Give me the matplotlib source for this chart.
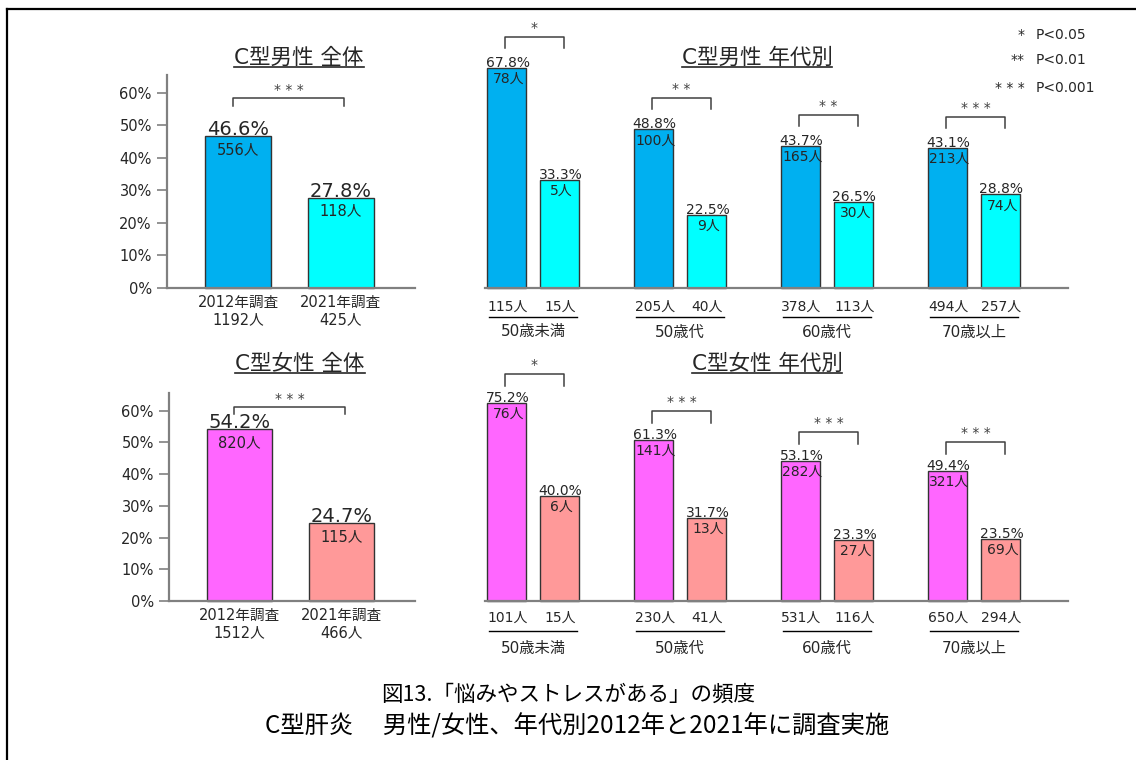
import numpy as np
import matplotlib
matplotlib.use('Agg')
import matplotlib.pyplot as plt
from matplotlib.lines import Line2D
from matplotlib.transforms import IdentityTransform

plt.rcParams['font.family'] = ['DejaVu Sans', 'Noto Sans CJK JP']

W, H = 1136, 760

# ---- data ----
survey_labels = ['2012年調査', '2021年調査']
age_groups = ['50歳未満', '50歳代', '60歳代', '70歳以上']

male_total_n = [1192, 425]
male_total_pct = [46.6, 27.8]
male_total_cnt = [556, 118]
male_total_sig = '* * *'

female_total_n = [1512, 466]
female_total_pct = [54.2, 24.7]
female_total_cnt = [820, 115]
female_total_sig = '* * *'

male_age_n_2012 = [115, 205, 378, 494]
male_age_n_2021 = [15, 40, 113, 257]
male_age_pct_2012 = [67.8, 48.8, 43.7, 43.1]
male_age_pct_2021 = [33.3, 22.5, 26.5, 28.8]
male_age_cnt_2012 = [78, 100, 165, 213]
male_age_cnt_2021 = [5, 9, 30, 74]
male_age_sig = ['*', '* *', '* *', '* * *']

female_age_n_2012 = [101, 230, 531, 650]
female_age_n_2021 = [15, 41, 116, 294]
female_age_pct_2012 = [75.2, 61.3, 53.1, 49.4]
female_age_pct_2021 = [40.0, 31.7, 23.3, 23.5]
female_age_cnt_2012 = [76, 141, 282, 321]
female_age_cnt_2021 = [6, 13, 27, 69]
female_age_sig = ['*', '* * *', '* * *', '* * *']

sig_legend = [('*', 'P<0.05'), ('**', 'P<0.01'), ('* * *', 'P<0.001')]

# ---- style ----
BLUE, CYAN = '#00B0F0', '#00FFFF'
PINK, SALMON = '#FF66FF', '#FF9999'
EDGE = '#333333'
AXIS = '#808080'
TXT = '#262626'
SIGC = '#404040'
CAPTION_FONT = ['Noto Sans CJK JP', 'DejaVu Sans']

fig = plt.figure(figsize=(W / 100, H / 100), dpi=100)


def px_axes(left, baseline, width, height):
    return fig.add_axes([left / W, (H - baseline) / H, width / W, height / H])


def to_px(ax, x, y):
    return ax.transData.transform((x, y))


def px_line(xs, ys, color, lw):
    fig.add_artist(Line2D(xs, ys, transform=IdentityTransform(), color=color,
                          lw=lw, clip_on=False))


def bracket(ax, x1, x2, y_top, gap, leg, sig, star_gap=9):
    # y_top: data value of the taller bar, gap in pixels above it
    p1 = to_px(ax, x1, y_top)
    p2 = to_px(ax, x2, y_top)
    yt = p1[1] + gap
    px_line([p1[0], p1[0], p2[0], p2[0]], [yt - leg, yt, yt, yt - leg], SIGC, 1.1)
    fig.text((p1[0] + p2[0]) / 2 / W, (yt + star_gap) / H, sig, ha='center',
             va='center', fontsize=10, color=SIGC)


def label(ax, text, xy, dx, dy, va, size):
    ax.annotate(text, xy=xy, xytext=(dx, dy), textcoords='offset pixels',
                ha='center', va=va, fontsize=size, color=TXT,
                annotation_clip=False)


def total_panel(ax, pct, cnt, n, colors, sig, gap, leg, ylim):
    x = np.arange(2)
    ax.bar(x, pct, 0.64, color=colors, edgecolor=EDGE, lw=1, clip_on=False)
    ax.set_xlim(-0.69, 1.72)
    ax.set_ylim(0, ylim)
    ax.set_yticks(range(0, 70, 10))
    ax.set_yticklabels([f'{v}%' for v in range(0, 70, 10)], fontsize=10.5, color=TXT)
    ax.tick_params(axis='y', length=7, color=AXIS, width=1.2, pad=4)
    ax.set_xticks(x)
    ax.set_xticklabels([f'{s}\n{v}人' for s, v in zip(survey_labels, n)],
                       fontsize=10.5, color=TXT, linespacing=1.2)
    ax.tick_params(axis='x', length=0, pad=5)
    for s in ['top', 'right']:
        ax.spines[s].set_visible(False)
    for s in ['left', 'bottom']:
        ax.spines[s].set_color(AXIS)
        ax.spines[s].set_linewidth(1.6)
    for i in range(2):
        label(ax, f'{pct[i]:.1f}%', (x[i], pct[i]), 0, 1, 'baseline', 14)
        label(ax, f'{cnt[i]}人', (x[i], pct[i]), 0, -6, 'top', 10.5)
    bracket(ax, -0.05, 1.03, max(pct), gap, leg, sig, star_gap=8)


def age_panel(ax, pct1, pct2, cnt1, cnt2, n1, n2, sig, c1, c2, ylim,
              gap, leg, dy_n, dy_line, dy_grp):
    x = np.arange(len(age_groups))
    off, bw = 0.18, 0.27
    ax.bar(x - off, pct1, bw, color=c1, edgecolor=EDGE, lw=1, clip_on=False)
    ax.bar(x + off, pct2, bw, color=c2, edgecolor=EDGE, lw=1, clip_on=False)
    ax.set_xlim(-0.327, 3.64)
    ax.set_ylim(0, ylim)
    for s in ['top', 'right', 'left']:
        ax.spines[s].set_visible(False)
    ax.spines['bottom'].set_color(AXIS)
    ax.spines['bottom'].set_linewidth(1.6)
    ax.set_xticks([])
    ax.set_yticks([])
    for i in range(len(x)):
        for xx, p, c, n in [(x[i] - off, pct1[i], cnt1[i], n1[i]),
                            (x[i] + off, pct2[i], cnt2[i], n2[i])]:
            label(ax, f'{p:.1f}%', (xx, p), 1, 1, 'baseline', 10)
            label(ax, f'{c}人', (xx, p), 2, -4, 'top', 10)
            label(ax, f'{n}人', (xx, 0), 1, -dy_n, 'center', 10)
        a = to_px(ax, x[i] - 0.30, 0)
        b = to_px(ax, x[i] + 0.30, 0)
        px_line([a[0], b[0]], [a[1] - dy_line, b[1] - dy_line], '#000000', 1.0)
        label(ax, age_groups[i], (x[i], 0), 0, -dy_grp, 'center', 11)
        bracket(ax, x[i] - off - 0.01, x[i] + off + 0.03, pct1[i], gap, leg, sig[i])


# ---- axes (pixel layout) ----
ax_mt = px_axes(167, 288, 248, 213)
ax_ma = px_axes(485, 288, 583, 213)
ax_ft = px_axes(169, 601, 246, 208)
ax_fa = px_axes(485, 601, 583, 208)

total_panel(ax_mt, male_total_pct, male_total_cnt, male_total_n, [BLUE, CYAN],
            male_total_sig, 38, 8, 65.5)
total_panel(ax_ft, female_total_pct, female_total_cnt, female_total_n, [PINK, SALMON],
            female_total_sig, 22, 7, 65.6)
age_panel(ax_ma, male_age_pct_2012, male_age_pct_2021, male_age_cnt_2012,
          male_age_cnt_2021, male_age_n_2012, male_age_n_2021, male_age_sig,
          BLUE, CYAN, 65.5, 31, 11, 19, 29, 44)
age_panel(ax_fa, female_age_pct_2012, female_age_pct_2021, female_age_cnt_2012,
          female_age_cnt_2021, female_age_n_2012, female_age_n_2021, female_age_sig,
          PINK, SALMON, 79, 29, 12, 17, 30, 47)

# ---- titles (underlined) ----
titles = [('C型男性 全体', 299, 58), ('C型男性 年代別', 757, 58),
          ('C型女性 全体', 300, 364), ('C型女性 年代別', 767, 364)]
title_objs = []
for t, x, y in titles:
    title_objs.append(fig.text(x / W, 1 - y / H, t, ha='center', va='center',
                               fontsize=15.5, color=TXT))

# significance legend
leg_y = [35, 60, 88]
for (s, p), y in zip(sig_legend, leg_y):
    fig.text(1025 / W, 1 - y / H, s, ha='right', va='center', fontsize=10, color=TXT)
    fig.text(1036 / W, 1 - y / H, p, ha='left', va='center', fontsize=10, color=TXT)

# caption
fig.text(568 / W, 1 - 695 / H, '図13.「悩みやストレスがある」の頻度', ha='center',
         va='center', fontsize=15.5, color='#000000', family=CAPTION_FONT)
fig.text(577 / W, 1 - 726 / H, 'C型肝炎　 男性/女性、年代別2012年と2021年に調査実施',
         ha='center', va='center', fontsize=17.5, color='#000000', family=CAPTION_FONT)

# frame (left and top edges)
px_line([7, 7], [0, H - 9], '#000000', 1.6)
px_line([7, W], [H - 9, H - 9], '#000000', 1.6)

fig.canvas.draw()
for t in title_objs:
    bb = t.get_window_extent()
    px_line([bb.x0, bb.x1], [bb.y0 + 1, bb.y0 + 1], TXT, 1.2)

fig.savefig('out.png', dpi=100)
